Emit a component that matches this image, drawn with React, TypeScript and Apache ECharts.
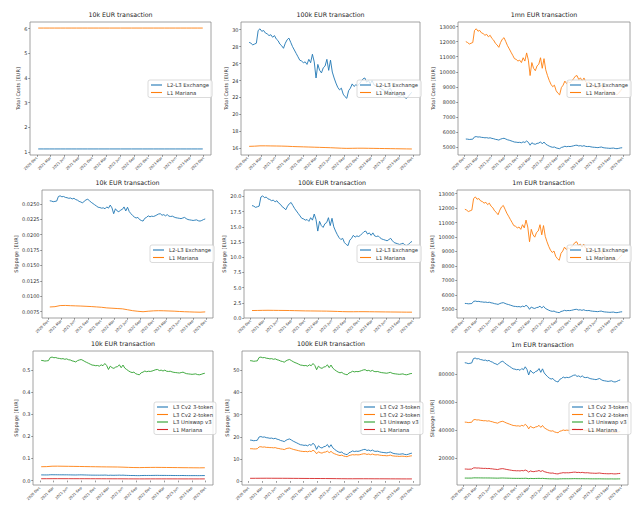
import React, { useEffect, useRef } from "react";
import * as echarts from "echarts";

// ---------- dates ----------
const DAY = 86400000;
const START = Date.UTC(2020, 11, 10);
const FINE_DATES = Array.from({ length: 91 }, (_, i) => START + i * 12 * DAY);
const COARSE_DATES = Array.from({ length: 31 }, (_, i) => START + i * 36 * DAY);
const X_MIN = Date.UTC(2020, 9, 17);
const X_MAX = Date.UTC(2024, 0, 18);
const X_TICK_DATES = [
  "2020-12-01", "2021-03-01", "2021-06-01", "2021-09-01", "2021-12-01", "2022-03-01", "2022-06-01",
  "2022-09-01", "2022-12-01", "2023-03-01", "2023-06-01", "2023-09-01", "2023-12-01",
];
const X_TICK_LABELS = [
  "2020-Dec", "2021-Mar", "2021-Jun", "2021-Sep", "2021-Dec", "2022-Mar", "2022-Jun",
  "2022-Sep", "2022-Dec", "2023-Mar", "2023-Jun", "2023-Sep", "2023-Dec",
];

// ---------- series values ----------
const costs10kExchange = [1.13, 1.13, 1.13, 1.13, 1.13, 1.13, 1.13, 1.13, 1.13, 1.13, 1.13, 1.13, 1.13, 1.13, 1.13, 1.13, 1.13, 1.13, 1.13, 1.13, 1.13, 1.13, 1.13, 1.13, 1.13, 1.13, 1.13, 1.13, 1.13, 1.13, 1.13];
const costs10kL1 = [6.02, 6.02, 6.02, 6.02, 6.02, 6.02, 6.02, 6.02, 6.02, 6.02, 6.02, 6.02, 6.02, 6.02, 6.02, 6.02, 6.02, 6.02, 6.02, 6.02, 6.02, 6.02, 6.02, 6.02, 6.02, 6.02, 6.02, 6.02, 6.02, 6.02, 6.02];

const costs100kExchange = [
  28.5, 28.4, 28.2, 28.3, 28.4, 29.9, 30.1, 29.8, 29.9, 29.6,
  29.5, 29.3, 29.4, 29.1, 29.3, 28.9, 28.7, 28.3, 28.1, 27.8,
  28.4, 28.8, 29.0, 28.5, 28.0, 27.6, 27.2, 26.8, 26.4, 26.3,
  26.1, 26.2, 25.9, 26.5, 26.1, 27.1, 26.2, 24.3, 25.9, 25.2,
  24.9, 25.5, 25.7, 26.5, 25.2, 26.4, 25.0, 24.3, 23.7, 23.2,
  22.9, 23.1, 22.4, 22.1, 21.9, 22.8, 23.1, 23.6, 23.3, 23.5,
  23.4, 23.6, 23.9, 24.2, 24.3, 23.8, 24.0, 23.6, 24.0, 23.5,
  23.4, 23.5, 23.2, 23.0, 22.9, 22.8, 22.7, 22.9, 23.1, 22.7,
  22.4, 22.3, 22.2, 22.1, 22.2, 22.3, 22.0, 21.9, 22.1, 22.4,
  22.6,
];
const costs100kL1 = [16.24, 16.26, 16.3, 16.3, 16.29, 16.28, 16.27, 16.25, 16.22, 16.2, 16.18, 16.16, 16.14, 16.12, 16.1, 16.08, 16.05, 16.02, 16.0, 16.01, 16.02, 16.02, 16.01, 16.0, 15.99, 15.98, 15.97, 15.96, 15.95, 15.94, 15.93];

const costs1mExchange = [
  5540, 5530, 5510, 5520, 5530, 5680, 5700, 5670, 5680, 5650,
  5640, 5620, 5630, 5600, 5620, 5580, 5560, 5520, 5500, 5470,
  5530, 5570, 5590, 5540, 5490, 5460, 5420, 5380, 5340, 5330,
  5310, 5320, 5290, 5350, 5310, 5410, 5320, 5130, 5290, 5220,
  5190, 5250, 5270, 5350, 5220, 5340, 5200, 5130, 5070, 5020,
  4990, 5010, 4950, 4920, 4900, 4980, 5010, 5060, 5030, 5050,
  5040, 5060, 5090, 5120, 5130, 5080, 5100, 5060, 5100, 5050,
  5040, 5050, 5020, 5000, 4990, 4980, 4970, 4990, 5010, 4970,
  4950, 4940, 4930, 4920, 4930, 4940, 4910, 4900, 4920, 4950,
  4960,
];
const costs1mL1 = [
  12000, 11940, 11840, 11890, 11940, 12740, 12850, 12690, 12740, 12580,
  12530, 12420, 12480, 12320, 12420, 12210, 12100, 11890, 11780, 11620,
  11940, 12160, 12260, 12000, 11730, 11520, 11300, 11090, 10870, 10820,
  10710, 10770, 10610, 10930, 10710, 11250, 10770, 9750, 10610, 10230,
  10070, 10390, 10500, 10930, 10230, 10870, 10130, 9750, 9430, 9170,
  9010, 9110, 8740, 8580, 8470, 8950, 9110, 9380, 9220, 9330,
  9270, 9380, 9540, 9700, 9750, 9490, 9590, 9380, 9590, 9330,
  9270, 9330, 9170, 9060, 9010, 8950, 8900, 9010, 9110, 8900,
  8740, 8690, 8630, 8580, 8630, 8690, 8530, 8470, 8580, 8740,
  8850,
];

const slip10kExchange = [
  0.0255, 0.02545, 0.02535, 0.0254, 0.02545, 0.0262, 0.0263, 0.02615, 0.0262, 0.02605,
  0.026, 0.0259, 0.02595, 0.0258, 0.0259, 0.0257, 0.0256, 0.0254, 0.0253, 0.02515,
  0.02545, 0.02565, 0.02575, 0.0255, 0.02525, 0.02505, 0.02485, 0.02465, 0.02445, 0.0244,
  0.0243, 0.02435, 0.0242, 0.0245, 0.0243, 0.0248, 0.02435, 0.0234, 0.0242, 0.02385,
  0.0237, 0.024, 0.0241, 0.0245, 0.02385, 0.02445, 0.02375, 0.0234, 0.0231, 0.02285,
  0.0227, 0.0228, 0.02245, 0.0223, 0.0222, 0.02265, 0.0228, 0.02305, 0.0229, 0.023,
  0.02295, 0.02305, 0.0232, 0.02335, 0.0234, 0.02315, 0.02325, 0.02305, 0.02325, 0.023,
  0.02295, 0.023, 0.02285, 0.02275, 0.0227, 0.02265, 0.0226, 0.0227, 0.0228, 0.0226,
  0.02245, 0.0224, 0.02235, 0.0223, 0.02235, 0.0224, 0.02225, 0.0222, 0.0223, 0.02245,
  0.02255,
];
const slip10kL1 = [0.00825, 0.0083, 0.00848, 0.0085, 0.00846, 0.00843, 0.0084, 0.00836, 0.00832, 0.00826, 0.0082, 0.0081, 0.00805, 0.008, 0.00795, 0.0078, 0.00765, 0.00755, 0.00748, 0.00756, 0.00762, 0.00765, 0.00763, 0.0076, 0.00757, 0.00752, 0.00748, 0.00745, 0.00742, 0.0074, 0.00745];

const slip100kExchange = [
  18.5, 18.4, 18.2, 18.3, 18.4, 19.9, 20.1, 19.8, 19.9, 19.6,
  19.5, 19.3, 19.4, 19.1, 19.3, 18.9, 18.7, 18.3, 18.1, 17.8,
  18.4, 18.8, 19.0, 18.5, 18.0, 17.6, 17.2, 16.8, 16.4, 16.3,
  16.1, 16.2, 15.9, 16.5, 16.1, 17.1, 16.2, 14.3, 15.9, 15.2,
  14.9, 15.5, 15.7, 16.5, 15.2, 16.4, 15.0, 14.3, 13.7, 13.2,
  12.9, 13.1, 12.4, 12.1, 11.9, 12.8, 13.1, 13.6, 13.3, 13.5,
  13.4, 13.6, 13.9, 14.2, 14.3, 13.8, 14.0, 13.6, 14.0, 13.5,
  13.4, 13.5, 13.2, 13.0, 12.9, 12.8, 12.7, 12.9, 13.1, 12.7,
  12.4, 12.3, 12.2, 12.1, 12.2, 12.3, 12.0, 11.9, 12.1, 12.4,
  12.6,
];
const slip100kL1 = [1.22, 1.23, 1.25, 1.26, 1.25, 1.24, 1.23, 1.22, 1.2, 1.18, 1.16, 1.15, 1.14, 1.13, 1.12, 1.1, 1.07, 1.04, 1.02, 1.02, 1.03, 1.03, 1.02, 1.01, 1.0, 0.99, 0.98, 0.97, 0.96, 0.95, 0.95];

const slip1mExchange = [
  5410, 5400, 5380, 5390, 5400, 5550, 5570, 5540, 5550, 5520,
  5510, 5490, 5500, 5470, 5490, 5450, 5430, 5390, 5370, 5340,
  5400, 5440, 5460, 5410, 5360, 5330, 5290, 5250, 5210, 5200,
  5180, 5190, 5160, 5220, 5180, 5280, 5190, 5000, 5160, 5090,
  5060, 5120, 5140, 5220, 5090, 5210, 5070, 5000, 4940, 4890,
  4860, 4880, 4820, 4790, 4770, 4850, 4880, 4930, 4900, 4920,
  4910, 4930, 4960, 4990, 5000, 4950, 4970, 4930, 4970, 4920,
  4910, 4920, 4890, 4870, 4860, 4850, 4840, 4860, 4880, 4840,
  4820, 4810, 4800, 4790, 4800, 4810, 4780, 4770, 4790, 4820,
  4830,
];
const slip1mL1 = [
  11920, 11860, 11760, 11810, 11860, 12660, 12770, 12610, 12660, 12500,
  12450, 12340, 12400, 12240, 12340, 12130, 12020, 11810, 11700, 11540,
  11860, 12080, 12180, 11920, 11650, 11440, 11220, 11010, 10790, 10740,
  10630, 10690, 10530, 10850, 10630, 11170, 10690, 9670, 10530, 10150,
  9990, 10310, 10420, 10850, 10150, 10790, 10050, 9670, 9350, 9090,
  8930, 9030, 8660, 8500, 8390, 8870, 9030, 9300, 9140, 9250,
  9190, 9300, 9460, 9620, 9670, 9410, 9510, 9300, 9510, 9250,
  9190, 9250, 9090, 8980, 8930, 8870, 8820, 8930, 9030, 8820,
  8660, 8610, 8550, 8500, 8550, 8610, 8450, 8390, 8500, 8660,
  8770,
];

const slip10kCv2Two = [0.0625, 0.063, 0.0648, 0.065, 0.0647, 0.0643, 0.064, 0.0636, 0.0632, 0.0628, 0.0624, 0.062, 0.0617, 0.0615, 0.0612, 0.0605, 0.0595, 0.0588, 0.0585, 0.059, 0.0593, 0.0595, 0.0593, 0.059, 0.0588, 0.0585, 0.0582, 0.058, 0.0577, 0.0575, 0.0578];
const slip10kUni = [
  0.543, 0.542, 0.54, 0.541, 0.542, 0.556, 0.558, 0.555, 0.556, 0.553,
  0.552, 0.55, 0.551, 0.548, 0.55, 0.546, 0.545, 0.541, 0.539, 0.536,
  0.542, 0.545, 0.547, 0.543, 0.538, 0.534, 0.53, 0.526, 0.522, 0.521,
  0.519, 0.52, 0.517, 0.523, 0.519, 0.529, 0.52, 0.502, 0.517, 0.51,
  0.507, 0.513, 0.515, 0.523, 0.51, 0.522, 0.508, 0.502, 0.496, 0.491,
  0.488, 0.49, 0.483, 0.48, 0.478, 0.487, 0.49, 0.495, 0.492, 0.494,
  0.493, 0.495, 0.498, 0.501, 0.502, 0.497, 0.499, 0.495, 0.499, 0.494,
  0.493, 0.494, 0.491, 0.489, 0.488, 0.487, 0.486, 0.488, 0.49, 0.486,
  0.483, 0.482, 0.481, 0.48, 0.481, 0.482, 0.479, 0.478, 0.48, 0.483,
  0.485,
];

const slip100kCv2Two = [
  14.6, 14.6, 14.5, 14.5, 14.6, 15.4, 15.5, 15.3, 15.4, 15.2,
  15.2, 15.1, 15.1, 15.0, 15.1, 14.8, 14.7, 14.5, 14.4, 14.2,
  14.6, 14.8, 14.9, 14.6, 14.3, 14.1, 13.9, 13.7, 13.5, 13.4,
  13.3, 13.4, 13.2, 13.5, 13.3, 13.9, 13.4, 12.3, 13.2, 12.8,
  12.6, 13.0, 13.1, 13.5, 12.8, 13.4, 12.7, 12.3, 12.0, 11.7,
  11.5, 11.7, 11.3, 11.1, 11.0, 11.5, 11.7, 11.9, 11.8, 11.9,
  11.8, 11.9, 12.1, 12.3, 12.3, 12.0, 12.2, 11.9, 12.2, 11.9,
  11.8, 11.9, 11.7, 11.6, 11.5, 11.5, 11.4, 11.5, 11.7, 11.4,
  11.3, 11.2, 11.2, 11.1, 11.2, 11.2, 11.1, 11.0, 11.1, 11.3,
  11.4,
];
const slip100kUni = [
  54.4, 54.3, 54.1, 54.2, 54.3, 55.8, 56.0, 55.7, 55.8, 55.5,
  55.4, 55.2, 55.3, 55.0, 55.2, 54.8, 54.6, 54.2, 54.0, 53.7,
  54.3, 54.7, 54.9, 54.4, 53.9, 53.5, 53.2, 52.8, 52.4, 52.3,
  52.1, 52.2, 51.9, 52.5, 52.1, 53.1, 52.2, 50.3, 51.9, 51.2,
  50.9, 51.5, 51.7, 52.5, 51.2, 52.4, 51.0, 50.3, 49.7, 49.2,
  48.9, 49.1, 48.5, 48.2, 48.0, 48.8, 49.1, 49.6, 49.3, 49.5,
  49.4, 49.6, 49.9, 50.2, 50.3, 49.8, 50.0, 49.6, 50.0, 49.5,
  49.4, 49.5, 49.2, 49.0, 48.9, 48.8, 48.7, 48.9, 49.1, 48.7,
  48.5, 48.4, 48.3, 48.2, 48.3, 48.4, 48.1, 48.0, 48.2, 48.5,
  48.6,
];

const slip1mCv2Three = [
  88350, 88140, 87720, 87930, 88140, 91290, 91710, 91080, 91290, 90660,
  90450, 90030, 90240, 89610, 90030, 89190, 88770, 87930, 87510, 86880,
  88140, 88980, 89400, 88350, 87300, 86460, 85620, 84780, 83940, 83730,
  83310, 83520, 82890, 84150, 83310, 85410, 83520, 79530, 82890, 81420,
  80790, 82050, 82470, 84150, 81420, 83940, 81000, 79530, 78270, 77220,
  76590, 77010, 75540, 74910, 74490, 76380, 77010, 78060, 77430, 77850,
  77640, 78060, 78690, 79320, 79530, 78480, 78900, 78060, 78900, 77850,
  77640, 77850, 77220, 76800, 76590, 76380, 76170, 76590, 77010, 76170,
  75540, 75330, 75120, 74910, 75120, 75330, 74700, 74490, 74910, 75540,
  75960,
];
const slip1mCv2Two = [
  45660, 45540, 45310, 45430, 45540, 47280, 47520, 47170, 47280, 46940,
  46820, 46590, 46700, 46360, 46590, 46120, 45890, 45430, 45200, 44850,
  45540, 46010, 46240, 45660, 45080, 44620, 44150, 43690, 43220, 43110,
  42880, 42990, 42640, 43340, 42880, 44040, 42990, 40790, 42640, 41830,
  41480, 42180, 42410, 43340, 41830, 43220, 41600, 40790, 40090, 39510,
  39160, 39400, 38580, 38240, 38000, 39050, 39400, 39980, 39630, 39860,
  39740, 39980, 40320, 40670, 40790, 40210, 40440, 39980, 40440, 39860,
  39740, 39860, 39510, 39280, 39160, 39050, 38930, 39160, 39400, 38930,
  38580, 38470, 38350, 38240, 38350, 38470, 38120, 38000, 38240, 38580,
  38820,
];

// ---------- tick values ----------
const yTicks1 = [1, 2, 3, 4, 5, 6];
const yTicks2 = [16, 18, 20, 22, 24, 26, 28, 30];
const yTicks3 = [5000, 6000, 7000, 8000, 9000, 10000, 11000, 12000, 13000];
const yTicks4 = [0.0075, 0.01, 0.0125, 0.015, 0.0175, 0.02, 0.0225, 0.025];
const yTicks5 = [0, 2.5, 5, 7.5, 10, 12.5, 15, 17.5, 20];
const yTicks7 = [0, 0.1, 0.2, 0.3, 0.4, 0.5];
const yTicks8 = [0, 10, 20, 30, 40, 50];
const yTicks9 = [20000, 40000, 60000, 80000];

const BLUE = "#1f77b4";
const ORANGE = "#ff7f0e";
const GREEN = "#2ca02c";
const RED = "#d62728";
const FONT = "DejaVu Sans";

type Line = { name: string; dates: number[]; values: number[]; color: string };
type Panel = {
  title: string; yName: string; box: [number, number, number, number];
  yMin: number; yMax: number; yTicks: number[]; dec: number; nameGap: number; lines: Line[];
};

const panels: Panel[] = [
  { title: "10k EUR transaction", yName: "Total Costs [EUR]", box: [30, 22, 211, 155], yMin: 0.885, yMax: 6.265, yTicks: yTicks1, dec: 0, nameGap: 9,
    lines: [
      { name: "L2-L3 Exchange", dates: COARSE_DATES, values: costs10kExchange, color: BLUE },
      { name: "L1 Mariana", dates: COARSE_DATES, values: costs10kL1, color: ORANGE },
    ] },
  { title: "100k EUR transaction", yName: "Total Costs [EUR]", box: [241, 22, 420, 155], yMin: 15.22, yMax: 30.9, yTicks: yTicks2, dec: 0, nameGap: 12,
    lines: [
      { name: "L2-L3 Exchange", dates: FINE_DATES, values: costs100kExchange, color: BLUE },
      { name: "L1 Mariana", dates: COARSE_DATES, values: costs100kL1, color: ORANGE },
    ] },
  { title: "1mn EUR transaction", yName: "Total Costs [EUR]", box: [458, 22, 630, 155], yMin: 4480, yMax: 13300, yTicks: yTicks3, dec: 0, nameGap: 21,
    lines: [
      { name: "L2-L3 Exchange", dates: FINE_DATES, values: costs1mExchange, color: BLUE },
      { name: "L1 Mariana", dates: FINE_DATES, values: costs1mL1, color: ORANGE },
    ] },
  { title: "10k EUR transaction", yName: "Slippage [EUR]", box: [42, 190, 213, 318], yMin: 0.00646, yMax: 0.02725, yTicks: yTicks4, dec: 4, nameGap: 21,
    lines: [
      { name: "L2-L3 Exchange", dates: FINE_DATES, values: slip10kExchange, color: BLUE },
      { name: "L1 Mariana", dates: COARSE_DATES, values: slip10kL1, color: ORANGE },
    ] },
  { title: "100k EUR transaction", yName: "Slippage [EUR]", box: [244, 190, 420, 318], yMin: -0.01, yMax: 21.06, yTicks: yTicks5, dec: 1, nameGap: 15,
    lines: [
      { name: "L2-L3 Exchange", dates: FINE_DATES, values: slip100kExchange, color: BLUE },
      { name: "L1 Mariana", dates: COARSE_DATES, values: slip100kL1, color: ORANGE },
    ] },
  { title: "1m EUR transaction", yName: "Slippage [EUR]", box: [457, 190, 630, 318], yMin: 4400, yMax: 13250, yTicks: yTicks3, dec: 0, nameGap: 20,
    lines: [
      { name: "L2-L3 Exchange", dates: FINE_DATES, values: slip1mExchange, color: BLUE },
      { name: "L1 Mariana", dates: FINE_DATES, values: slip1mL1, color: ORANGE },
    ] },
  { title: "10k EUR transaction", yName: "Slippage [EUR]", box: [33, 351, 213, 485], yMin: -0.0201, yMax: 0.5855, yTicks: yTicks7, dec: 1, nameGap: 12,
    lines: [
      { name: "L3 Cv2 3-token", dates: FINE_DATES, values: slip10kExchange, color: BLUE },
      { name: "L3 Cv2 2-token", dates: COARSE_DATES, values: slip10kCv2Two, color: ORANGE },
      { name: "L3 Uniswap v3", dates: FINE_DATES, values: slip10kUni, color: GREEN },
      { name: "L1 Mariana", dates: COARSE_DATES, values: slip10kL1, color: RED },
    ] },
  { title: "100k EUR transaction", yName: "Slippage [EUR]", box: [242, 351, 420, 485], yMin: -1.8, yMax: 58.75, yTicks: yTicks8, dec: 0, nameGap: 13,
    lines: [
      { name: "L3 Cv2 3-token", dates: FINE_DATES, values: slip100kExchange, color: BLUE },
      { name: "L3 Cv2 2-token", dates: FINE_DATES, values: slip100kCv2Two, color: ORANGE },
      { name: "L3 Uniswap v3", dates: FINE_DATES, values: slip100kUni, color: GREEN },
      { name: "L1 Mariana", dates: COARSE_DATES, values: slip100kL1, color: RED },
    ] },
  { title: "1m EUR transaction", yName: "Slippage [EUR]", box: [457, 352, 628, 485], yMin: 423, yMax: 96057, yTicks: yTicks9, dec: 0, nameGap: 20,
    lines: [
      { name: "L3 Cv2 3-token", dates: FINE_DATES, values: slip1mCv2Three, color: BLUE },
      { name: "L3 Cv2 2-token", dates: FINE_DATES, values: slip1mCv2Two, color: ORANGE },
      { name: "L3 Uniswap v3", dates: FINE_DATES, values: slip1mExchange, color: GREEN },
      { name: "L1 Mariana", dates: FINE_DATES, values: slip1mL1, color: RED },
    ] },
];

const X_TICKS = X_TICK_DATES.map((d) => Date.parse(d + "T00:00:00Z"));

function buildOption() {
  const LEG_ROW = 6;
  const LEG_GAP = 1.5;
  const LEG_PAD = 2;
  return {
    animation: false,
    backgroundColor: "#ffffff",
    textStyle: { fontFamily: FONT },
    title: panels.map((p) => ({
      text: p.title,
      left: (p.box[0] + p.box[2]) / 2,
      top: p.box[1] - 11,
      textAlign: "center",
      padding: 0,
      textStyle: { fontSize: 6.3, fontWeight: "normal", color: "#222", fontFamily: FONT },
    })),
    grid: panels.map((p) => ({
      left: p.box[0], top: p.box[1], width: p.box[2] - p.box[0], height: p.box[3] - p.box[1],
      show: true, borderColor: "#8a8a8a", borderWidth: 0.8, backgroundColor: "transparent", containLabel: false,
    })),
    xAxis: panels.map((p, k) => ({
      type: "value", gridIndex: k, min: X_MIN, max: X_MAX,
      splitLine: { show: false },
      axisLine: { show: false },
      axisTick: { show: true, customValues: X_TICKS, length: 1.8, lineStyle: { color: "#555", width: 0.6 } },
      axisLabel: {
        customValues: X_TICKS, rotate: 45, fontSize: 3.6, margin: 2.5, color: "#333", fontFamily: FONT,
        formatter: (v: number) => {
          const idx = X_TICKS.indexOf(v);
          return idx >= 0 ? X_TICK_LABELS[idx] : "";
        },
      },
    })),
    yAxis: panels.map((p, k) => ({
      type: "value", gridIndex: k, min: p.yMin, max: p.yMax,
      splitLine: { show: false },
      axisLine: { show: false },
      name: p.yName, nameLocation: "middle", nameGap: p.nameGap,
      nameTextStyle: { fontSize: 5, color: "#333", fontFamily: FONT },
      axisTick: { show: true, customValues: p.yTicks, length: 1.8, lineStyle: { color: "#555", width: 0.6 } },
      axisLabel: {
        customValues: p.yTicks, fontSize: 5, margin: 2.5, color: "#333", fontFamily: FONT,
        formatter: (v: number) => v.toFixed(p.dec),
      },
    })),
    legend: panels.map((p, k) => {
      const n = p.lines.length;
      const h = n * LEG_ROW + (n - 1) * LEG_GAP + 2 * LEG_PAD;
      const w = n === 2 ? 61 : 57;
      return {
        id: "legend" + k,
        show: true,
        orient: "vertical",
        left: Math.round(p.box[2] - 2 - w),
        top: Math.round((p.box[1] + p.box[3]) / 2 - h / 2),
        icon: "rect",
        itemWidth: 11, itemHeight: 1.1, itemGap: LEG_GAP,
        padding: [LEG_PAD, 3, LEG_PAD, 3],
        backgroundColor: "rgba(255,255,255,0.8)",
        borderColor: "#cccccc", borderWidth: 0.7, borderRadius: 2,
        selectedMode: false,
        textStyle: { fontSize: 5.3, lineHeight: LEG_ROW, color: "#333", fontFamily: FONT },
        data: p.lines.map((l) => ({
          name: l.name,
          icon: "rect",
          itemStyle: { color: l.color, borderWidth: 0 },
        })),
      };
    }),
    series: panels.flatMap((p, k) =>
      p.lines.map((l) => ({
        type: "line", name: l.name, xAxisIndex: k, yAxisIndex: k,
        data: l.dates.map((d, i) => [d, l.values[i]]),
        showSymbol: false, symbol: "none", silent: true,
        lineStyle: { color: l.color, width: 0.9 },
        itemStyle: { color: l.color },
      }))
    ),
  };
}

export default function App() {
  const ref = useRef<HTMLDivElement>(null);
  useEffect(() => {
    if (!ref.current) return;
    const chart = echarts.init(ref.current, undefined, { renderer: "svg" });
    chart.setOption(buildOption() as any);
    return () => chart.dispose();
  }, []);
  return (
    <div
      ref={ref}
      style={{ position: "fixed", left: 0, top: 0, width: 640, height: 510, background: "#fff" }}
    />
  );
}
